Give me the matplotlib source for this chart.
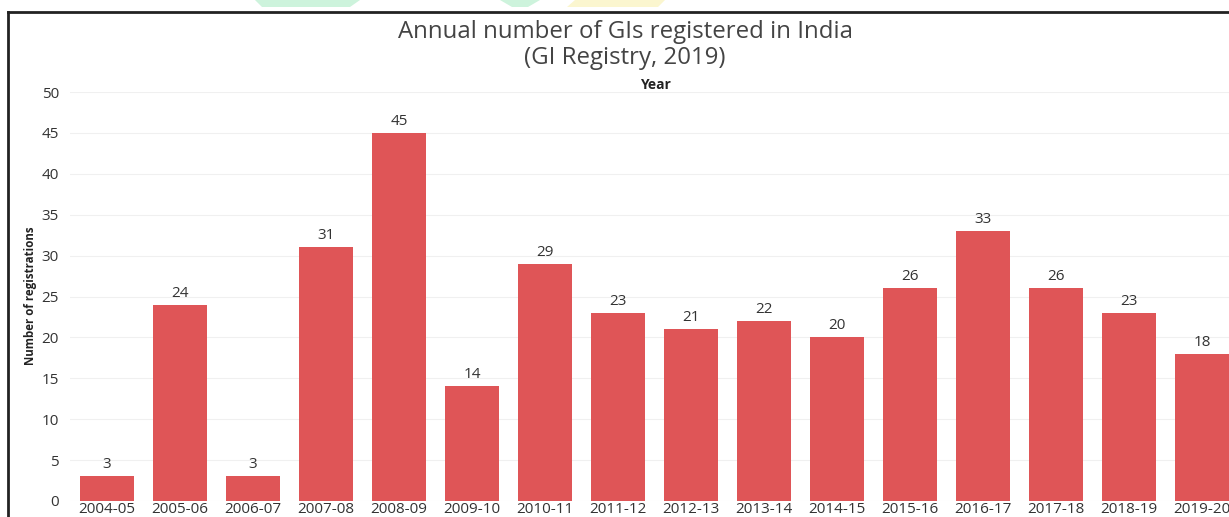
import matplotlib.pyplot as plt
from matplotlib.patches import Polygon
from matplotlib.lines import Line2D

years = ['2004-05', '2005-06', '2006-07', '2007-08', '2008-09', '2009-10',
         '2010-11', '2011-12', '2012-13', '2013-14', '2014-15', '2015-16',
         '2016-17', '2017-18', '2018-19', '2019-20']
registrations = [3, 24, 3, 31, 45, 14, 29, 23, 21, 22, 20, 26, 33, 26, 23, 18]
y_ticks = [0, 5, 10, 15, 20, 25, 30, 35, 40, 45, 50]

W, H = 1229, 517
plt.rcParams['font.family'] = ['Open Sans', 'DejaVu Sans']

fig = plt.figure(figsize=(W / 100, H / 100), dpi=100)


def fx(px):
    return px / W


def fy(py):
    return 1 - py / H


# faint watermark shapes at the very top
fig.patches.append(Polygon([(fx(255), fy(0)), (fx(360), fy(0)), (fx(350), fy(7)), (fx(262), fy(7))],
                           closed=True, transform=fig.transFigure, facecolor='#cdf3dc', lw=0, zorder=0))
fig.patches.append(Polygon([(fx(500), fy(0)), (fx(540), fy(0)), (fx(528), fy(7)), (fx(512), fy(7))],
                           closed=True, transform=fig.transFigure, facecolor='#cdf3dc', lw=0, zorder=0))
fig.patches.append(Polygon([(fx(575), fy(0)), (fx(665), fy(0)), (fx(658), fy(7)), (fx(567), fy(7))],
                           closed=True, transform=fig.transFigure, facecolor='#fbf6cf', lw=0, zorder=0))

# black frame (top and left edges visible)
fig.lines.append(Line2D([fx(8), 1], [fy(12), fy(12)], transform=fig.transFigure, color='#222222', lw=2))
fig.lines.append(Line2D([fx(8), fx(8)], [fy(12), 0], transform=fig.transFigure, color='#222222', lw=2))

ax = fig.add_axes([fx(70), 16 / H, 1 - fx(70), (501 - 92) / H])
x = list(range(len(years)))
ax.bar(x, registrations, width=0.74, color='#df5557', zorder=2)

for xi, v in zip(x, registrations):
    ax.text(xi, v + 0.5, str(v), ha='center', va='bottom', fontsize=11, color='#333333')

ax.set_xlim(-0.507, 15.37)
ax.set_ylim(0, 50)
ax.set_yticks(y_ticks)
ax.set_xticks(x)
ax.set_xticklabels(years)
ax.tick_params(axis='both', length=0, labelsize=11, labelcolor='#333333')
ax.tick_params(axis='x', pad=1)
ax.tick_params(axis='y', pad=8)
ax.grid(axis='y', color='#f0f0f0', lw=0.8, zorder=0)
for s in ax.spines.values():
    s.set_visible(False)

fig.text(fx(625), fy(32), 'Annual number of GIs registered in India', ha='center', va='center',
         fontsize=17.3, color='#444444')
fig.text(fx(625), fy(58), '(GI Registry, 2019)', ha='center', va='center',
         fontsize=17.3, color='#444444')
fig.text(fx(655), fy(85), 'Year', ha='center', va='center', fontsize=10,
         fontweight='bold', color='#222222')
fig.text(fx(31), fy(296), 'Number of registrations', ha='center', va='center', rotation=90,
         fontsize=8.3, fontweight='bold', color='#222222')

plt.savefig('out.png', dpi=100)
